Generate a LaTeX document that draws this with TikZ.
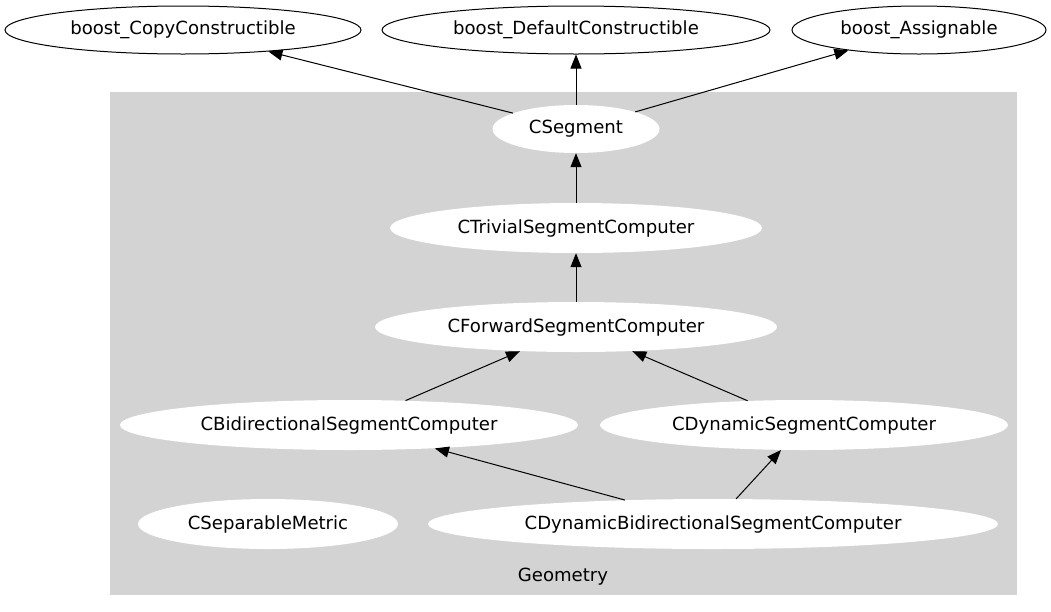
\documentclass[tikz,border=0pt]{standalone}
\usepackage{fontspec}
\setmainfont{DejaVu Sans}
\usetikzlibrary{shapes.geometric,arrows.meta}
\definecolor{clustergray}{HTML}{D3D3D3}
\begin{document}
\begin{tikzpicture}[x=1pt,y=-1pt,
  every node/.style={font=\fontsize{18.1}{21}\selectfont},
  outer/.style={ellipse,draw=black,line width=1pt,fill=white,inner sep=0pt},
  inner/.style={ellipse,fill=white,inner sep=0pt},
  inh/.style={line width=1pt,-{Triangle[length=14pt,width=11pt]}}]
\useasboundingbox (0,0) rectangle (1051,611);
\fill[white] (0,0) rectangle (1051,611);
\fill[clustergray] (110,92) rectangle (1017,595);
% top nodes
\node[outer,minimum width=356pt,minimum height=48pt] (copy) at (183,30) {boost\_CopyConstructible};
\node[outer,minimum width=388pt,minimum height=48pt] (default) at (576,30) {boost\_DefaultConstructible};
\node[outer,minimum width=254pt,minimum height=48pt] (assign) at (919,30) {boost\_Assignable};
% cluster nodes
\node[inner,minimum width=167pt,minimum height=48pt] (seg) at (576,129) {CSegment};
\node[inner,minimum width=372pt,minimum height=50pt] (triv) at (576,228) {CTrivialSegmentComputer};
\node[inner,minimum width=402pt,minimum height=50pt] (fwd) at (576,327) {CForwardSegmentComputer};
\node[inner,minimum width=458pt,minimum height=50pt] (bidir) at (349,425) {CBidirectionalSegmentComputer};
\node[inner,minimum width=408pt,minimum height=50pt] (dyn) at (804,425) {CDynamicSegmentComputer};
\node[inner,minimum width=260pt,minimum height=50pt] (sep) at (268,524) {CSeparableMetric};
\node[inner,minimum width=570pt,minimum height=50pt] (dynbi) at (713,524) {CDynamicBidirectionalSegmentComputer};
\node (geom) at (563,577) {Geometry};
% edges
\draw[inh] (seg) -- (copy);
\draw[inh] (seg) -- (default);
\draw[inh] (seg) -- (assign);
\draw[inh] (triv) -- (seg);
\draw[inh] (fwd) -- (triv);
\draw[inh] (bidir) -- (fwd);
\draw[inh] (dyn) -- (fwd);
\draw[inh] (dynbi) -- (bidir);
\draw[inh] (dynbi) -- (dyn);
\end{tikzpicture}
\end{document}
